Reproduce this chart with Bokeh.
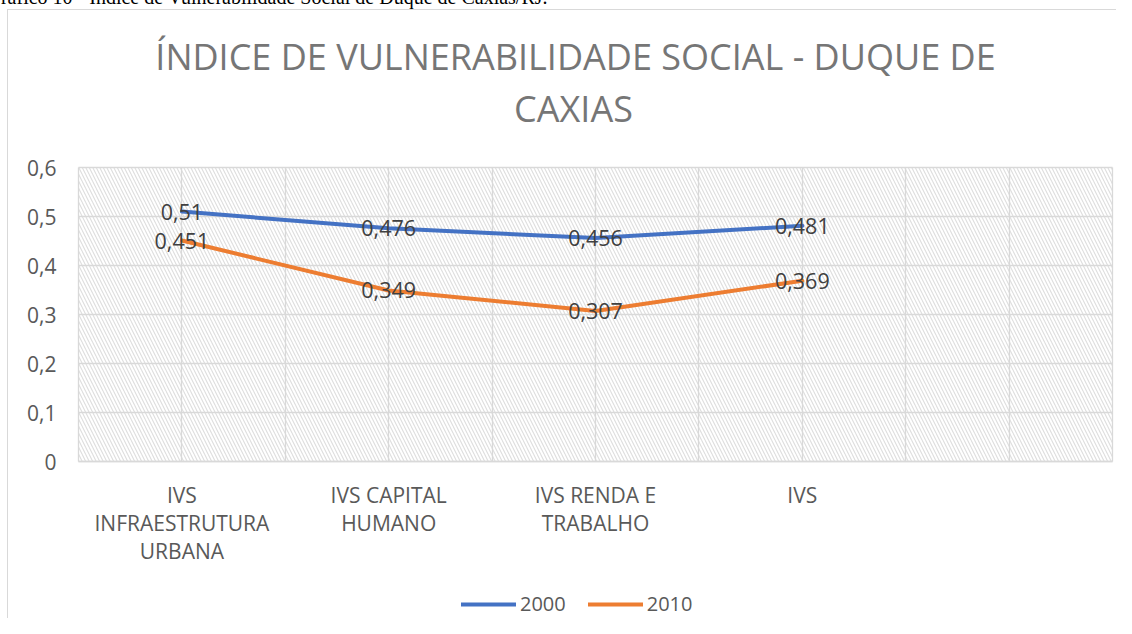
from bokeh.plotting import figure
from bokeh.models import (ColumnDataSource, FixedTicker, Legend, LegendItem, Label,
                          BoxAnnotation)
from bokeh.core.properties import value
from bokeh.embed import file_html
from bokeh.resources import INLINE

# ---- data ----
categories = ["IVS\nINFRAESTRUTURA\nURBANA", "IVS CAPITAL\nHUMANO", "IVS RENDA E\nTRABALHO", "IVS", ""]
series_2000 = [0.51, 0.476, 0.456, 0.481]
series_2010 = [0.451, 0.349, 0.307, 0.369]
labels_2000 = ["0,51", "0,476", "0,456", "0,481"]
labels_2010 = ["0,451", "0,349", "0,307", "0,369"]
y_ticks = [0, 0.1, 0.2, 0.3, 0.4, 0.5, 0.6]
y_tick_labels = ["0", "0,1", "0,2", "0,3", "0,4", "0,5", "0,6"]
title_lines = ["ÍNDICE DE VULNERABILIDADE SOCIAL - DUQUE DE", "CAXIAS"]
caption = "Gráfico 10 - Índice de Vulnerabilidade Social de Duque de Caxias/RJ."

# ---- layout (picture pixels) ----
W, H = 1124, 626
OFF = 8                                  # canvas sits 8px up-left of the picture origin
FONT = "Open Sans"
PL, PR, PT, PB = 78, 1112, 167, 461      # plot area in picture pixels
NCAT = len(categories)
YMAX = y_ticks[-1]
ux = (PR - PL) / NCAT                    # px per category
uy = (PB - PT) / YMAX                    # px per y unit
x_range = (-(PL + OFF) / ux, (W - OFF - PL) / ux)
y_range = (-(H - OFF - PB) / uy, (PB + OFF) / uy)


def sx(x):  # picture x -> screen x (relative to frame = canvas)
    return x + OFF


def sy(y):  # picture y -> screen y (from canvas bottom, upward)
    return (H - OFF) - y


xpos = [i + 0.5 for i in range(len(series_2000))]
x_grid_ticks = [i * 0.5 for i in range(2 * NCAT + 1)]

p = figure(width=W, height=H, output_backend="svg", toolbar_location=None, title=None,
           x_range=x_range, y_range=y_range, min_border=0)
grad = "linear-gradient(#d9d9d9, #d9d9d9)"
p.styles = {
    "margin-left": "-8px", "margin-top": "-8px",
    "background": f"{grad} {7 + OFF}px {9 + OFF}px / 1px 100% no-repeat, "
                  f"{grad} {7 + OFF}px {9 + OFF}px / 100% 1px no-repeat, white",
}
p.outline_line_color = None
p.background_fill_color = None
p.border_fill_color = None

# hatched plot area
hatch = BoxAnnotation(left=0, right=NCAT, bottom=0, top=YMAX,
                      fill_alpha=0, line_alpha=0, hatch_pattern="\\",
                      hatch_color="#dedede", hatch_scale=7, hatch_weight=1.1,
                      level="image")
p.add_layout(hatch)

# grid, limited to the plot area
GRID_COLOR, GRID_W = "#d9d9d9", 1.3
if "cross_bounds" in p.xgrid[0].properties():
    p.xgrid.ticker = FixedTicker(ticks=x_grid_ticks)
    p.xgrid.cross_bounds = (0, YMAX)
    p.xgrid.grid_line_color = GRID_COLOR
    p.xgrid.grid_line_width = GRID_W
    p.ygrid.ticker = FixedTicker(ticks=y_ticks)
    p.ygrid.cross_bounds = (0, NCAT)
    p.ygrid.grid_line_color = GRID_COLOR
    p.ygrid.grid_line_width = GRID_W
else:
    p.xgrid.visible = False
    p.ygrid.visible = False
    p.segment(x0=x_grid_ticks, y0=[0] * len(x_grid_ticks), x1=x_grid_ticks,
              y1=[YMAX] * len(x_grid_ticks), line_color=GRID_COLOR, line_width=GRID_W,
              level="underlay")
    p.segment(x0=[0] * len(y_ticks), y0=y_ticks, x1=[NCAT] * len(y_ticks), y1=y_ticks,
              line_color=GRID_COLOR, line_width=GRID_W, level="underlay")

# axes drawn at the plot area's edges
p.xaxis.fixed_location = 0
p.xaxis.bounds = (0, NCAT)
p.xaxis.ticker = FixedTicker(ticks=[i + 0.5 for i in range(NCAT)])
p.xaxis.major_label_overrides = {i + 0.5: c for i, c in enumerate(categories)}
p.xaxis.major_tick_line_color = None
p.xaxis.minor_tick_line_color = None
p.xaxis.axis_line_color = "#d9d9d9"
p.xaxis.axis_line_width = 1.5
p.xaxis.major_label_text_font = FONT
p.xaxis.major_label_text_font_size = "21px"
p.xaxis.major_label_text_color = "#595959"
p.xaxis.major_label_text_line_height = 1.0
p.xaxis.major_label_standoff = 13

p.yaxis.fixed_location = 0
p.yaxis.bounds = (0, YMAX)
p.yaxis.ticker = FixedTicker(ticks=y_ticks)
p.yaxis.major_label_overrides = {t: l for t, l in zip(y_ticks, y_tick_labels)}
p.yaxis.major_tick_line_color = None
p.yaxis.minor_tick_line_color = None
p.yaxis.axis_line_color = None
p.yaxis.major_label_text_font = FONT
p.yaxis.major_label_text_font_size = "21px"
p.yaxis.major_label_text_color = "#595959"
p.yaxis.major_label_standoff = 16

# lines
src00 = ColumnDataSource(dict(x=xpos, y=series_2000, t=labels_2000))
src10 = ColumnDataSource(dict(x=xpos, y=series_2010, t=labels_2010))
r00 = p.line("x", "y", source=src00, line_color="#4472C4", line_width=4, line_cap="round", line_join="round")
r10 = p.line("x", "y", source=src10, line_color="#ED7D31", line_width=4, line_cap="round", line_join="round")

for s in (src00, src10):
    p.text("x", "y", text="t", source=s, text_align="center", text_baseline="middle",
           text_font=value(FONT), text_font_size="21.5px", text_color="#404040")

# legend
legend = Legend(items=[LegendItem(label="2000", renderers=[r00]),
                       LegendItem(label="2010", renderers=[r10])],
                orientation="horizontal", location=(sx(461), sy(617)),
                glyph_width=55, glyph_height=20, label_standoff=4, spacing=22,
                padding=0, margin=0, border_line_color=None, background_fill_alpha=0,
                label_text_font=FONT, label_text_font_size="20px", label_text_color="#595959")
p.add_layout(legend, "center")

# title (two lines) and the cut-off caption above the chart
p.add_layout(Label(x=sx(575), y=sy(56), x_units="screen", y_units="screen", text=title_lines[0],
                   text_align="center", text_baseline="alphabetic", text_font=FONT,
                   text_font_size="36px", text_color="#767676"))
p.add_layout(Label(x=sx(573), y=sy(108), x_units="screen", y_units="screen", text=title_lines[1],
                   text_align="center", text_baseline="alphabetic", text_font=FONT,
                   text_font_size="36px", text_color="#767676"))
p.add_layout(Label(x=sx(-14), y=sy(-4), x_units="screen", y_units="screen", text=caption,
                   text_align="left", text_baseline="alphabetic", text_font="Liberation Serif",
                   text_font_size="20px", text_color="black"))

open("out.html", "w").write(file_html(p, INLINE))
